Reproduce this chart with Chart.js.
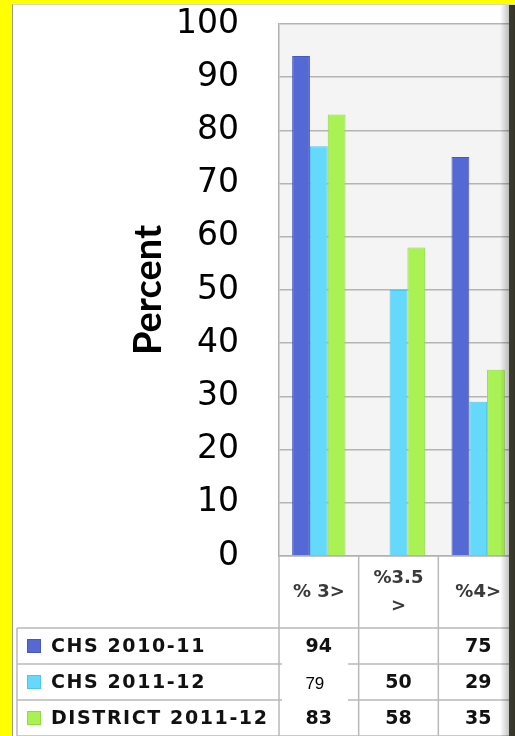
<!DOCTYPE html>
<html>
<head>
<meta charset="utf-8">
<script src="https://cdn.jsdelivr.net/npm/chart.js@4.4.0/dist/chart.umd.min.js"></script>
<style>
html, body { margin: 0; padding: 0; overflow: hidden; background: #ffff00; width: 515px; height: 736px; }
#panel { position: absolute; left: 12px; top: 4px; width: 503px; height: 732px; background: #fff; border-left: 1px solid #9a9a88; border-top: 1px solid #d8d8c0; }
#levels { position: absolute; left: 0; top: 0; }
#edge { position: absolute; left: 500px; top: 5px; width: 15px; height: 731px;
  background: linear-gradient(to right, rgba(0,0,0,0) 0%, rgba(0,0,0,0.22) 58%, #3c3c2a 62%, #34342a 100%); }
</style>
</head>
<body>
<div id="panel"></div>
<canvas id="levels" width="518" height="736"></canvas>
<div id="edge"></div>
<script>
// categories (header row of the data table)
const categories = ['% 3>', ['%3.5', '>'], '%4>']
// series
const seriesNames = ['CHS 2010-11', 'CHS 2011-12', 'DISTRICT 2011-12']
const chs1011 = [94, null, 75]
const chs1112 = [77, 50, 29]
const district1112 = [83, 58, 35]
// the table cell for CHS 2011-12 / % 3> was pasted over with this number
const pastedNote = '79'
const yTicks = [0, 10, 20, 30, 40, 50, 60, 70, 80, 90, 100]

const fills = ['#5569d5', '#64d9fc', '#aaf254']
const edges = ['#4659c2', '#52c4e8', '#92d944']

const tablePlugin = {
    id: 'dataTable',
    beforeDraw(chart) {
        const a = chart.chartArea
        const ctx = chart.ctx
        ctx.save()
        ctx.fillStyle = '#f4f4f4'
        ctx.fillRect(a.left, a.top, a.right - a.left, a.bottom - a.top)
        ctx.restore()
    },
    afterDraw(chart) {
        const ctx = chart.ctx
        const a = chart.chartArea
        const xs = chart.scales.x
        const n = categories.length
        const colW = (a.right - a.left) / n
        const top = a.bottom
        const headH = 72
        const rowH = (chart.height - top - headH) / seriesNames.length
        const tableLeft = 17
        const allData = chart.data.datasets.map(d => d.data)

        ctx.save()
        ctx.strokeStyle = '#b9b9b9'
        ctx.lineWidth = 1.5
        ctx.beginPath()
        for (let i = 0; i <= n; i++) {
            const x = a.left + i * colW
            ctx.moveTo(x, top)
            ctx.lineTo(x, chart.height)
        }
        ctx.moveTo(tableLeft, top + headH)
        ctx.lineTo(tableLeft, chart.height)
        for (let r = 0; r <= seriesNames.length; r++) {
            const y = top + headH + r * rowH
            ctx.moveTo(tableLeft, y)
            ctx.lineTo(a.right, y)
        }
        ctx.stroke()

        // header labels
        ctx.textAlign = 'center'
        ctx.textBaseline = 'middle'
        ctx.fillStyle = '#3a3a3a'
        ctx.font = 'bold 18px "DejaVu Sans"'
        categories.forEach((c, i) => {
            const cx = xs.getPixelForValue(i)
            const lines = Array.isArray(c) ? c : [c]
            const mid = top + headH / 2
            lines.forEach((t, k) => {
                ctx.fillText(t, cx, mid + (k - (lines.length - 1) / 2) * 28)
            })
        })

        // legend column and values
        seriesNames.forEach((name, r) => {
            const cy = top + headH + r * rowH + rowH / 2
            ctx.fillStyle = fills[r]
            ctx.fillRect(27, cy - 7, 14, 14)
            ctx.strokeStyle = edges[r]
            ctx.lineWidth = 1
            ctx.strokeRect(27.5, cy - 6.5, 13, 13)
            ctx.fillStyle = '#111'
            ctx.textAlign = 'left'
            ctx.font = 'bold 19px "DejaVu Sans"'
            ctx.letterSpacing = '1.6px'
            ctx.fillText(name, 51, cy + 1)
            ctx.letterSpacing = '0px'
            ctx.textAlign = 'center'
            allData[r].forEach((v, i) => {
                if (v === null) return
                ctx.fillText(String(v), xs.getPixelForValue(i), cy + 1)
            })
        })

        // pasted-over cell
        const py = top + headH + rowH
        ctx.fillStyle = '#ffffff'
        ctx.fillRect(a.left + 3, py - 1, 66, rowH + 2)
        ctx.fillStyle = '#000'
        ctx.font = '17px "Liberation Sans"'
        ctx.fillText(pastedNote, xs.getPixelForValue(0) - 4, py + rowH / 2 + 2)
        ctx.restore()
    }
}

const chartArea = document.getElementById('levels').getContext('2d')
const myChart = new Chart(chartArea, {
    type: 'bar',
    data: {
        labels: categories,
        datasets: [chs1011, chs1112, district1112].map((d, i) => ({
            label: seriesNames[i],
            data: d,
            backgroundColor: fills[i],
            borderColor: edges[i],
            borderWidth: 1,
            categoryPercentage: 0.67,
            barPercentage: 1.0
        }))
    },
    options: {
        responsive: false,
        animation: false,
        devicePixelRatio: 1,
        layout: { padding: { left: 126, top: 24, right: 0, bottom: 0 } },
        plugins: { legend: { display: false }, tooltip: { enabled: false } },
        scales: {
            x: {
                grid: { display: false },
                border: { display: true, color: '#b0b0b0', width: 1.5 },
                ticks: { display: false },
                afterFit(scale) { scale.height = 180 }
            },
            y: {
                min: yTicks[0],
                max: yTicks[yTicks.length - 1],
                afterBuildTicks(scale) { scale.ticks = yTicks.map(v => ({ value: v })) },
                ticks: { color: '#000', font: { family: 'DejaVu Sans', size: 33 }, padding: 40 },
                grid: { color: '#b4b4b4', lineWidth: 1.5, drawTicks: false },
                border: { display: true, color: '#b0b0b0', width: 1.5 },
                title: { display: true, text: 'Percent', color: '#000', font: { family: 'Lato', size: 38, weight: 'bold' }, padding: 0 },
                afterFit(scale) {
                    scale.width = 153
                    scale.paddingTop = 0
                    scale.paddingBottom = 0
                }
            }
        }
    },
    plugins: [tablePlugin]
})
</script>
</body>
</html>
